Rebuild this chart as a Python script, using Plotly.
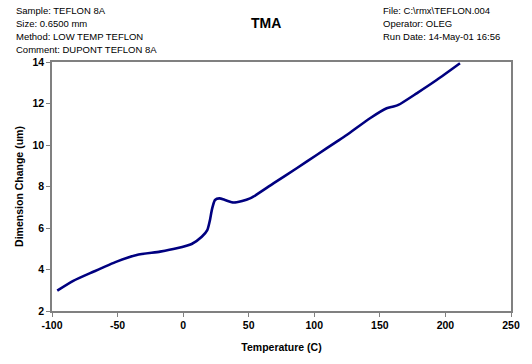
import plotly.graph_objects as go

temperature = [-96.0, -83.8, -68.5, -50.7, -35.4, -17.6, -4.9, 6.5, 14.2, 18.4, 20.5, 21.5, 22.5, 24.3, 27.6,
               31.9, 37.0, 40.8, 45.0, 51.0, 53.5, 68.8, 86.6, 101.8, 117.1, 124.7, 142.5, 155.2, 160.3,
               164.1, 178.1, 193.3, 211.1]
dimension = [2.98, 3.45, 3.89, 4.38, 4.70, 4.86, 5.02, 5.23, 5.58, 5.90, 6.40, 6.75, 7.03, 7.35, 7.43,
             7.35, 7.24, 7.24, 7.30, 7.43, 7.51, 8.15, 8.88, 9.52, 10.16, 10.48, 11.29, 11.77, 11.85,
             11.93, 12.49, 13.13, 13.94]

x_ticks = [-100, -50, 0, 50, 100, 150, 200, 250]
y_ticks = [2, 4, 6, 8, 10, 12, 14]

left_header = ["Sample: TEFLON 8A", "Size: 0.6500 mm", "Method: LOW TEMP TEFLON", "Comment: DUPONT TEFLON 8A"]
right_header = ["File: C:\\rmx\\TEFLON.004", "Operator: OLEG", "Run Date: 14-May-01 16:56"]

FONT = "Liberation Sans, Arial, sans-serif"

fig = go.Figure()
fig.add_trace(go.Scatter(x=temperature, y=dimension, mode="lines",
                         line=dict(color="#000080", width=2.6, shape="spline", smoothing=0.6),
                         showlegend=False, hoverinfo="skip"))

PL, PT, PW, PH = 52, 62, 459, 249


def px_to_paper(px, py):
    return (px - PL) / PW, 1 - (py - PT) / PH


anns = []
for i, t in enumerate(left_header):
    x, y = px_to_paper(14, 10 + 13 * i)
    anns.append(dict(text=t, xref="paper", yref="paper", x=x, y=y, xanchor="left", yanchor="middle",
                     showarrow=False, font=dict(family=FONT, size=9.5, color="black")))
for i, t in enumerate(right_header):
    x, y = px_to_paper(381, 10 + 13 * i)
    anns.append(dict(text=t, xref="paper", yref="paper", x=x, y=y, xanchor="left", yanchor="middle",
                     showarrow=False, font=dict(family=FONT, size=9.5, color="black")))
x, y = px_to_paper(266, 23)
anns.append(dict(text="<b>TMA</b>", xref="paper", yref="paper", x=x, y=y, xanchor="center", yanchor="middle",
                 showarrow=False, font=dict(family=FONT, size=14, color="black")))

fig.update_layout(
    width=532, height=364,
    margin=dict(l=PL, r=532 - PL - PW, t=PT, b=364 - PT - PH, autoexpand=False),
    paper_bgcolor="white", plot_bgcolor="white",
    font=dict(family=FONT, color="black"),
    annotations=anns,
    xaxis=dict(range=[-100, 250], tickvals=x_ticks, ticktext=[f"<b>{v}</b>" for v in x_ticks],
               showgrid=False, zeroline=False, showline=True, mirror=True,
               linecolor="#808080", linewidth=1.5, ticks="outside", ticklen=4, tickcolor="#808080",
               tickfont=dict(family=FONT, size=10.5, color="black"),
               title=dict(text="<b>Temperature (C)</b>", font=dict(family=FONT, size=10.5), standoff=13)),
    yaxis=dict(range=[2, 14], tickvals=y_ticks, ticktext=[f"<b>{v}</b>" for v in y_ticks],
               showgrid=False, zeroline=False, showline=True, mirror=True,
               linecolor="#808080", linewidth=1.5, ticks="outside", ticklen=4, tickcolor="#808080",
               tickfont=dict(family=FONT, size=10.5, color="black"),
               title=dict(text="<b>Dimension Change (um)</b>", font=dict(family=FONT, size=10.5), standoff=7)),
)

fig.write_html("out.html", config={"displayModeBar": False},
               post_script="document.body.style.margin='0';")
